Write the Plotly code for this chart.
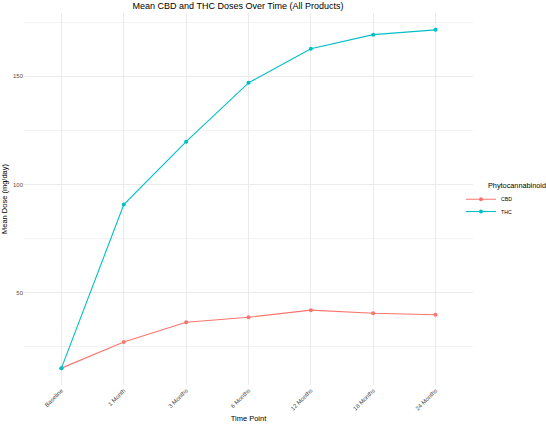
import plotly.graph_objects as go

time_points = ["Baseline", "1 Month", "3 Months", "6 Months", "12 Months", "18 Months", "24 Months"]
cbd_values = [15.1, 27.2, 36.3, 38.6, 41.9, 40.5, 39.8]
thc_values = [15.1, 90.7, 119.8, 147.0, 162.8, 169.3, 171.5]

FONT = "Liberation Sans, Arial, sans-serif"

# plot area geometry (pixels)
W, H = 546, 425
ML, MR, MT, MB = 24, 73, 13, 40
PW, PH = W - ML - MR, H - MT - MB


def px_x(p):
    return (p - ML) / PW


def px_y(p):
    return (H - MB - p) / PH


fig = go.Figure()
fig.add_trace(go.Scatter(x=time_points, y=cbd_values, mode="lines+markers", name="CBD", legend="legend",
                         line=dict(color="#F8766D", width=1.1), marker=dict(color="#F8766D", size=4)))
fig.add_trace(go.Scatter(x=time_points, y=thc_values, mode="lines+markers", name="THC", legend="legend2",
                         line=dict(color="#00BFC4", width=1.1), marker=dict(color="#00BFC4", size=4)))

legend_common = dict(font=dict(size=5.2, color="#000000", family=FONT), xanchor="left", yanchor="middle",
                     itemwidth=30, bgcolor="rgba(0,0,0,0)", borderwidth=0)

fig.update_layout(
    width=W, height=H,
    margin=dict(l=ML, r=MR, t=MT, b=MB),
    paper_bgcolor="white", plot_bgcolor="white",
    font=dict(family=FONT, color="#4D4D4D", size=6),
    title=dict(text="Mean CBD and THC Doses Over Time (All Products)", x=238 / W, xanchor="center",
               y=1 - 5.5 / H, yanchor="middle", font=dict(size=9, color="#000000")),
    showlegend=True,
    legend=dict(x=px_x(461), y=px_y(199.3), **legend_common),
    legend2=dict(x=px_x(461), y=px_y(211.5), **legend_common),
    annotations=[dict(text="Phytocannabinoid", xref="paper", yref="paper", x=px_x(485.5), y=px_y(185),
                      xanchor="left", yanchor="middle", showarrow=False,
                      font=dict(size=7.3, color="#000000", family=FONT))],
    xaxis=dict(type="category", range=[-0.6, 6.6], showgrid=True, gridcolor="#EBEBEB", gridwidth=1,
               tickangle=-45, ticks="", zeroline=False, showline=False,
               title=dict(text="Time Point", font=dict(size=7.5, color="#000000"), standoff=5),
               automargin=False),
    yaxis=dict(range=[7.3, 179.3], tick0=0, dtick=50, showgrid=True, gridcolor="#EBEBEB", gridwidth=1,
               minor=dict(dtick=25, tick0=0, showgrid=True, gridcolor="#F3F3F3", gridwidth=0.6),
               ticks="", zeroline=False, showline=False,
               title=dict(text="Mean Dose (mg/day)", font=dict(size=7.5, color="#000000"), standoff=4),
               automargin=False),
)

fig.write_html("out.html")
